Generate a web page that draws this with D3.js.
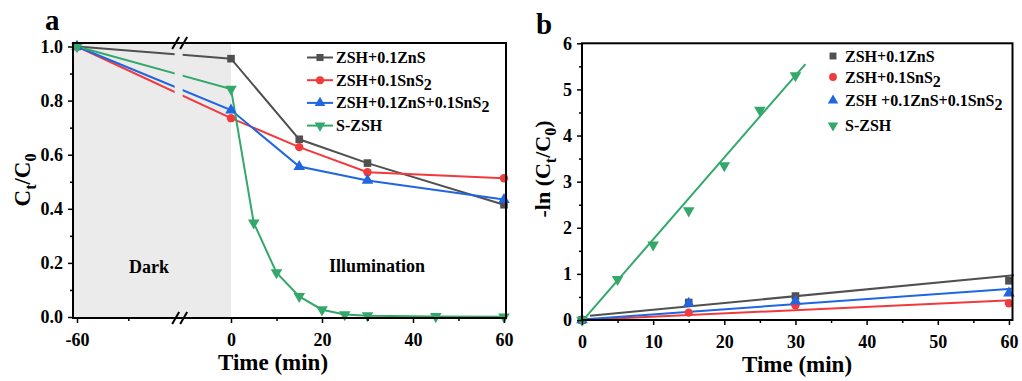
<!DOCTYPE html>
<html>
<head>
<meta charset="utf-8">
<script src="https://cdn.jsdelivr.net/npm/d3@7"></script>
<style>
  body { margin: 0; background: #fff; }
  svg text { font-family: "Liberation Serif", "Times New Roman", Tinos, "DejaVu Serif", "Noto Serif", serif !important; font-weight: bold; fill: #000; }
</style>
</head>
<body>
<div id="chart"></div>
<script>
// data
var timeA = [-60, 0, 15, 30, 60];
var znsA = [1.0, 0.955, 0.657, 0.569, 0.415];
var sns2A = [1.0, 0.735, 0.628, 0.535, 0.513];
var bothA = [1.0, 0.765, 0.556, 0.505, 0.434];
var timeSA = [-60, 0, 5, 10, 15, 20, 25, 30, 45, 60];
var szshA = [1.0, 0.843, 0.348, 0.164, 0.076, 0.027, 0.009, 0.005, 0.002, 0.001];

var timeB = [0, 15, 30, 60];
var znsB = [0, 0.38, 0.52, 0.85];
var sns2B = [0, 0.16, 0.32, 0.36];
var bothB = [0, 0.36, 0.41, 0.58];
var timeSB = [0, 5, 10, 15, 20, 25, 30];
var szshB = [0, 0.88, 1.63, 2.37, 3.35, 4.55, 5.3];

// linear fit lines (end points)
var fitX = { zns: [1.1, 60.7], sns2: [0, 60.3], both: [0, 60.4], szsh: [0, 31.4] };
var fitY = { zns: [0.09, 0.97], sns2: [0, 0.43], both: [0.01, 0.68], szsh: [-0.03, 5.55] };

var xTicksA = [-60, 0, 20, 40, 60];
var xMinorA = [-40, 10, 30, 50];
var yTicksA = [0, 0.2, 0.4, 0.6, 0.8, 1.0];
var yMinorA = [0.1, 0.3, 0.5, 0.7, 0.9];
var xTicksB = [0, 10, 20, 30, 40, 50, 60];
var xMinorB = [5, 15, 25, 35, 45, 55];
var yTicksB = [0, 1, 2, 3, 4, 5, 6];
var yMinorB = [0.5, 1.5, 2.5, 3.5, 4.5, 5.5];

var namesA = [[["ZSH+0.1ZnS"]], [["ZSH+0.1SnS"], ["2", 1]], [["ZSH+0.1ZnS+0.1SnS"], ["2", 1]], [["S-ZSH"]]];
var namesB = [[["ZSH+0.1ZnS"]], [["ZSH+0.1SnS"], ["2", 1]], [["ZSH +0.1ZnS+0.1SnS"], ["2", 1]], [["S-ZSH"]]];
var colors = ["#505050", "#f03a3c", "#1f66e0", "#33a86a"];
var symbols = [d3.symbolSquare, d3.symbolCircle, d3.symbolTriangle, d3.symbolTriangle];
var symRot = [0, 0, 0, 180];

var serif = "'Liberation Serif', 'Times New Roman', Tinos, 'DejaVu Serif', serif";

var svg = d3.select("#chart").append("svg")
  .attr("width", 1022).attr("height", 381);

function richText(g, parts, size, subSize) {
  var t = g.append("text").style("font-size", size + "px").attr("font-family", serif);
  var shifted = false;
  parts.forEach(function(p) {
    var s = t.append("tspan").text(p[0]);
    if (p[1]) {
      s.style("font-size", subSize + "px").attr("dy", size * 0.25);
      shifted = true;
    } else if (shifted) {
      s.attr("dy", -size * 0.25);
      shifted = false;
    }
  });
  return t;
}

function marker(g, i, x, y, size) {
  g.append("path")
    .attr("d", d3.symbol().type(symbols[i]).size(size)())
    .attr("transform", "translate(" + x + "," + y + ") rotate(" + symRot[i] + ")")
    .attr("fill", colors[i]);
}

// plain hyphen for negative numbers, like the original
var fmtInt = function(d) { return String(d); };
var fmtOne = function(d) { return d.toFixed(1); };

function drawAxes(g, x, y, fr, xt, xm, yt, ym, xfmt, yfmt) {
  g.append("g").attr("transform", "translate(0," + fr.b + ")")
    .call(d3.axisBottom(x).tickValues(xm).tickSize(3).tickFormat(""))
    .call(function(a) { a.select(".domain").remove(); });
  g.append("g").attr("transform", "translate(" + fr.l + ",0)")
    .call(d3.axisLeft(y).tickValues(ym).tickSize(3).tickFormat(""))
    .call(function(a) { a.select(".domain").remove(); });
  var ax = g.append("g").attr("transform", "translate(0," + fr.b + ")")
    .call(d3.axisBottom(x).tickValues(xt).tickSize(5).tickPadding(10).tickFormat(xfmt));
  ax.select(".domain").remove();
  var ay = g.append("g").attr("transform", "translate(" + fr.l + ",0)")
    .call(d3.axisLeft(y).tickValues(yt).tickSize(5).tickPadding(5).tickFormat(yfmt));
  ay.select(".domain").remove();
  g.selectAll("g").attr("font-family", serif).attr("font-size", 18);
  g.selectAll(".tick line").attr("stroke", "#000").attr("stroke-width", 1.5);
  g.selectAll(".tick text").style("font-size", "18px").style("font-weight", "bold");
}

// ---------------- panel a ----------------
var frA = { l: 73, r: 506, t: 43, b: 318 };
var xA = d3.scaleLinear().domain([-60, 0, 60]).range([77, 231, 504]);
var yA = d3.scaleLinear().domain([0, 1]).range([317, 46.5]);
var gA = svg.append("g");

gA.append("rect")
  .attr("x", frA.l).attr("y", frA.t)
  .attr("width", xA(0) - frA.l).attr("height", frA.b - frA.t)
  .attr("fill", "#ebebeb");

var breakX = xA(-20);
var defs = svg.append("defs");
defs.append("clipPath").attr("id", "clipL").append("rect")
  .attr("x", 0).attr("y", 0).attr("width", breakX - 5).attr("height", 381);
defs.append("clipPath").attr("id", "clipR").append("rect")
  .attr("x", breakX + 3).attr("y", 0).attr("width", 600).attr("height", 381);

var seriesA = [[timeA, znsA], [timeA, sns2A], [timeA, bothA], [timeSA, szshA]];
var lineA = d3.line().x(function(d) { return xA(d[0]); }).y(function(d) { return yA(d[1]); });

seriesA.forEach(function(s, i) {
  var pts = d3.zip(s[0], s[1]);
  ["clipL", "clipR"].forEach(function(c) {
    gA.append("path").datum(pts)
      .attr("clip-path", "url(#" + c + ")")
      .attr("d", lineA).attr("fill", "none")
      .attr("stroke", colors[i]).attr("stroke-width", 2);
  });
});
seriesA.forEach(function(s, i) {
  d3.zip(s[0], s[1]).forEach(function(d) {
    marker(gA, i, xA(d[0]), yA(d[1]), i == 1 ? 55 : 58);
  });
});

drawAxes(gA, xA, yA, frA, xTicksA, xMinorA, yTicksA, yMinorA, fmtInt, fmtOne);

gA.append("rect")
  .attr("x", frA.l).attr("y", frA.t)
  .attr("width", frA.r - frA.l).attr("height", frA.b - frA.t)
  .attr("fill", "none").attr("stroke", "#000").attr("stroke-width", 2);

// axis break marks
[frA.t, frA.b].forEach(function(yy) {
  [-4, 4].forEach(function(off) {
    gA.append("line")
      .attr("x1", breakX + off - 3.5).attr("y1", yy + 6)
      .attr("x2", breakX + off + 3.5).attr("y2", yy - 6)
      .attr("stroke", "#000").attr("stroke-width", 2);
  });
});

// legend a
namesA.forEach(function(n, i) {
  var ly = 57.5 + i * 22.7;
  gA.append("line").attr("x1", 307).attr("x2", 333).attr("y1", ly).attr("y2", ly)
    .attr("stroke", colors[i]).attr("stroke-width", 2);
  marker(gA, i, 320, ly, 50);
  richText(gA, n, 16, 16).attr("x", 336).attr("y", ly + 5.5);
});

gA.append("text").attr("x", 149).attr("y", 273).attr("text-anchor", "middle")
  .attr("font-family", serif).style("font-size", "18px").text("Dark");
gA.append("text").attr("x", 377).attr("y", 272).attr("text-anchor", "middle")
  .attr("font-family", serif).style("font-size", "18px").text("Illumination");
gA.append("text").attr("x", 45).attr("y", 30).attr("font-family", serif)
  .style("font-size", "29px").text("a");
gA.append("text").attr("x", 273).attr("y", 370).attr("text-anchor", "middle")
  .attr("font-family", serif).style("font-size", "23px").text("Time (min)");
richText(gA, [["C"], ["t", 1], ["/C"], ["0", 1]], 23, 16)
  .attr("text-anchor", "middle")
  .attr("transform", "translate(30,180) rotate(-90)");

// ---------------- panel b ----------------
var frB = { l: 582, r: 1012.5, t: 43.3, b: 320 };
var xB = d3.scaleLinear().domain([0, 60.5]).range([582, 1012.5]);
var yB = d3.scaleLinear().domain([0, 6]).range([320, 43.3]);
var gB = svg.append("g");

var keys = ["zns", "sns2", "both", "szsh"];
keys.forEach(function(k, i) {
  gB.append("path").datum(d3.zip(fitX[k], fitY[k]))
    .attr("d", d3.line().x(function(d) { return xB(d[0]); }).y(function(d) { return yB(d[1]); }))
    .attr("fill", "none").attr("stroke", colors[i]).attr("stroke-width", 2);
});

var seriesB = [[timeB, znsB], [timeB, sns2B], [timeB, bothB], [timeSB, szshB]];
seriesB.forEach(function(s, i) {
  d3.zip(s[0], s[1]).forEach(function(d) {
    marker(gB, i, xB(d[0]), yB(d[1]), i == 1 ? 55 : 58);
  });
});

drawAxes(gB, xB, yB, frB, xTicksB, xMinorB, yTicksB, yMinorB, fmtInt, fmtInt);

gB.append("rect")
  .attr("x", frB.l).attr("y", frB.t)
  .attr("width", frB.r - frB.l).attr("height", frB.b - frB.t)
  .attr("fill", "none").attr("stroke", "#000").attr("stroke-width", 2);

// legend b
var legYB = [56, 77, 100.5, 125.5];
namesB.forEach(function(n, i) {
  marker(gB, i, 833, legYB[i], 48);
  richText(gB, n, 16, 16).attr("x", 845).attr("y", legYB[i] + 5.5);
});

gB.append("text").attr("x", 536).attr("y", 34).attr("font-family", serif)
  .style("font-size", "29px").text("b");
gB.append("text").attr("x", 797).attr("y", 372).attr("text-anchor", "middle")
  .attr("font-family", serif).style("font-size", "23px").text("Time (min)");
richText(gB, [["-ln (C"], ["t", 1], ["/C"], ["0", 1], [")"]], 22, 16)
  .attr("text-anchor", "middle")
  .attr("transform", "translate(550,169) rotate(-90)");
</script>
</body>
</html>
